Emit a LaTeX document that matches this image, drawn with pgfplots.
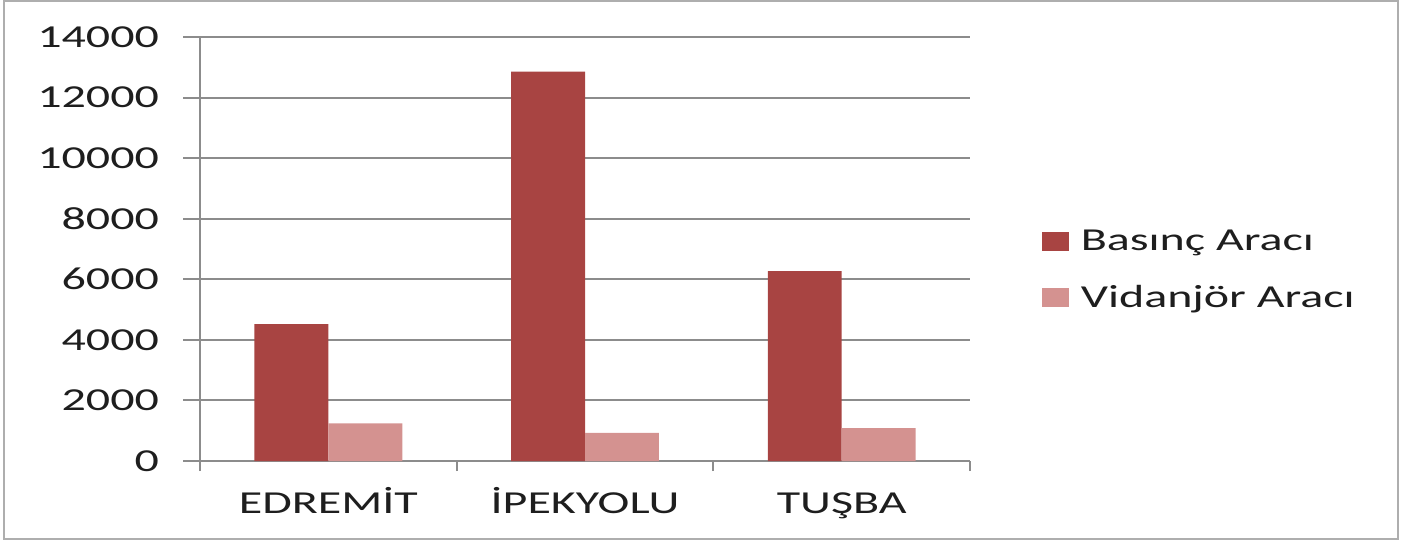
\documentclass[border=0pt]{standalone}
\usepackage{fontspec}
\setmainfont[FakeStretch=1.5]{Carlito}
\usepackage{pgfplots}
\pgfplotsset{compat=1.18}
\definecolor{basinc}{HTML}{A84442}
\definecolor{vidan}{HTML}{D49290}
\definecolor{gridc}{HTML}{8C8C8C}
\definecolor{txt}{HTML}{1E1E1E}
\begin{document}
\begin{tikzpicture}
\useasboundingbox (-100pt,-40.5pt) rectangle (605.5pt,230.5pt);
\draw[gridc!70, line width=1pt] (-98pt,-39pt) rectangle (599pt,230pt);
\begin{axis}[
  at={(64.17pt,0pt)}, anchor=origin,
  scale only axis, width=385pt, height=212pt,
  ybar=0pt, bar width=0.288,
  xmin=-0.5, xmax=2.5, ymin=0, ymax=14000,
  xtick={0,1,2},
  xticklabels={EDREMİT,İPEKYOLU,TUŞBA},
  minor xtick={-0.5,0.5,1.5,2.5},
  ytick={0,2000,...,14000},
  scaled y ticks=false,
  /pgf/number format/1000 sep={},
  /pgf/number format/assume math mode=true,
  axis lines=left,
  axis line style={-, gridc, line width=1pt},
  tick align=outside,
  major tick length=8.5pt,
  minor tick length=5pt,
  x tick style={draw=none},
  minor x tick style={draw=gridc, line width=1pt},
  y tick style={gridc, line width=1pt},
  ymajorgrids,
  major grid style={gridc, line width=1pt},
  tick label style={font=\fontsize{16}{18}\selectfont, text=txt},
  xticklabel style={yshift=0pt, text height=14pt, text depth=4pt},
  yticklabel style={xshift=-8.5pt},
  legend style={at={(1.085,0.45)}, anchor=west, draw=none, fill=none,
    font=\fontsize{16}{18}\selectfont, text=txt, row sep=12pt,
    /tikz/every odd column/.append style={column sep=4pt}},
  legend cell align=left,
  legend image code/.code={\fill[#1] (0pt,-4.75pt) rectangle (13.5pt,4.75pt);},
  clip=false,
]
\addplot[fill=basinc, draw=none] coordinates {(0,4520) (1,12860) (2,6270)};
\addplot[fill=vidan, draw=none] coordinates {(0,1240) (1,930) (2,1085)};
\legend{Basınç Aracı, Vidanjör Aracı}
\end{axis}
\end{tikzpicture}
\end{document}
